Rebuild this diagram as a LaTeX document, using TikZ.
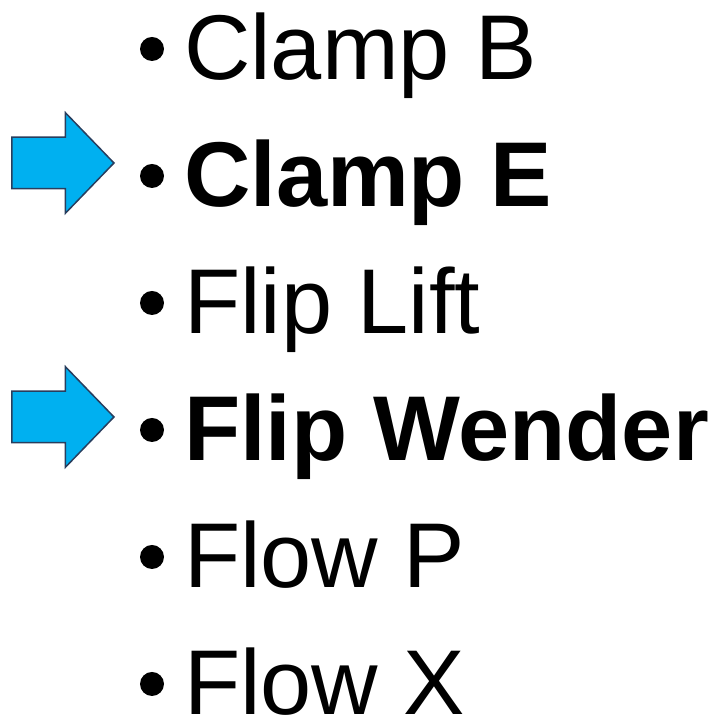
\documentclass[tikz,border=0pt]{standalone}
\usepackage{fontspec}
\setmainfont{Liberation Sans}
\usepackage{tikz}
\usetikzlibrary{shapes,arrows,positioning,calc}
\definecolor{pointerblue}{RGB}{0,176,240}
\definecolor{pointeredge}{RGB}{40,62,94}
\tikzstyle{item} = [anchor=base west, inner sep=0pt, outer sep=0pt, font=\fontsize{92}{110}\selectfont]
\tikzstyle{itembold} = [item, font=\fontsize{92}{110}\selectfont\bfseries]
\tikzstyle{bullet} = [circle, fill=black, inner sep=0pt, minimum size=24pt]
\tikzstyle{pointer} = [single arrow, draw=pointeredge, fill=pointerblue, line width=1.5pt, inner sep=0pt, text height=25pt, text depth=25pt, minimum height=102pt, single arrow head extend=24.5pt, single arrow tip angle=92, anchor=tip]

\begin{document}
\begin{tikzpicture}[x=1pt, y=1pt]

% Page frame
\useasboundingbox (0,0) rectangle (721,719);

% List items
\node[item] (clampB) at (184,639) {Clamp B};
\node[itembold, below=127pt of clampB.base west, anchor=base west] (clampE) {Clamp E};
\node[item, below=127pt of clampE.base west, anchor=base west] (flipLift) {Flip Lift};
\node[itembold, below=127pt of flipLift.base west, anchor=base west] (flipWender) {Flip Wender};
\node[item, below=127pt of flipWender.base west, anchor=base west] (flowP) {Flow P};
\node[item, below=127pt of flowP.base west, anchor=base west] (flowX) {Flow X};

% Bullets
\foreach \n in {clampB,clampE,flipLift,flipWender,flowP,flowX}
    \node[bullet] (dot-\n) at ($(\n.base west)+(-32,31)$) {};

% Pointers to the bold items
\node[pointer] (ptrE) at ($(clampE.base west)+(-69,44)$) {};
\node[pointer] (ptrW) at ($(flipWender.base west)+(-69,44)$) {};

\end{tikzpicture}
\end{document}
